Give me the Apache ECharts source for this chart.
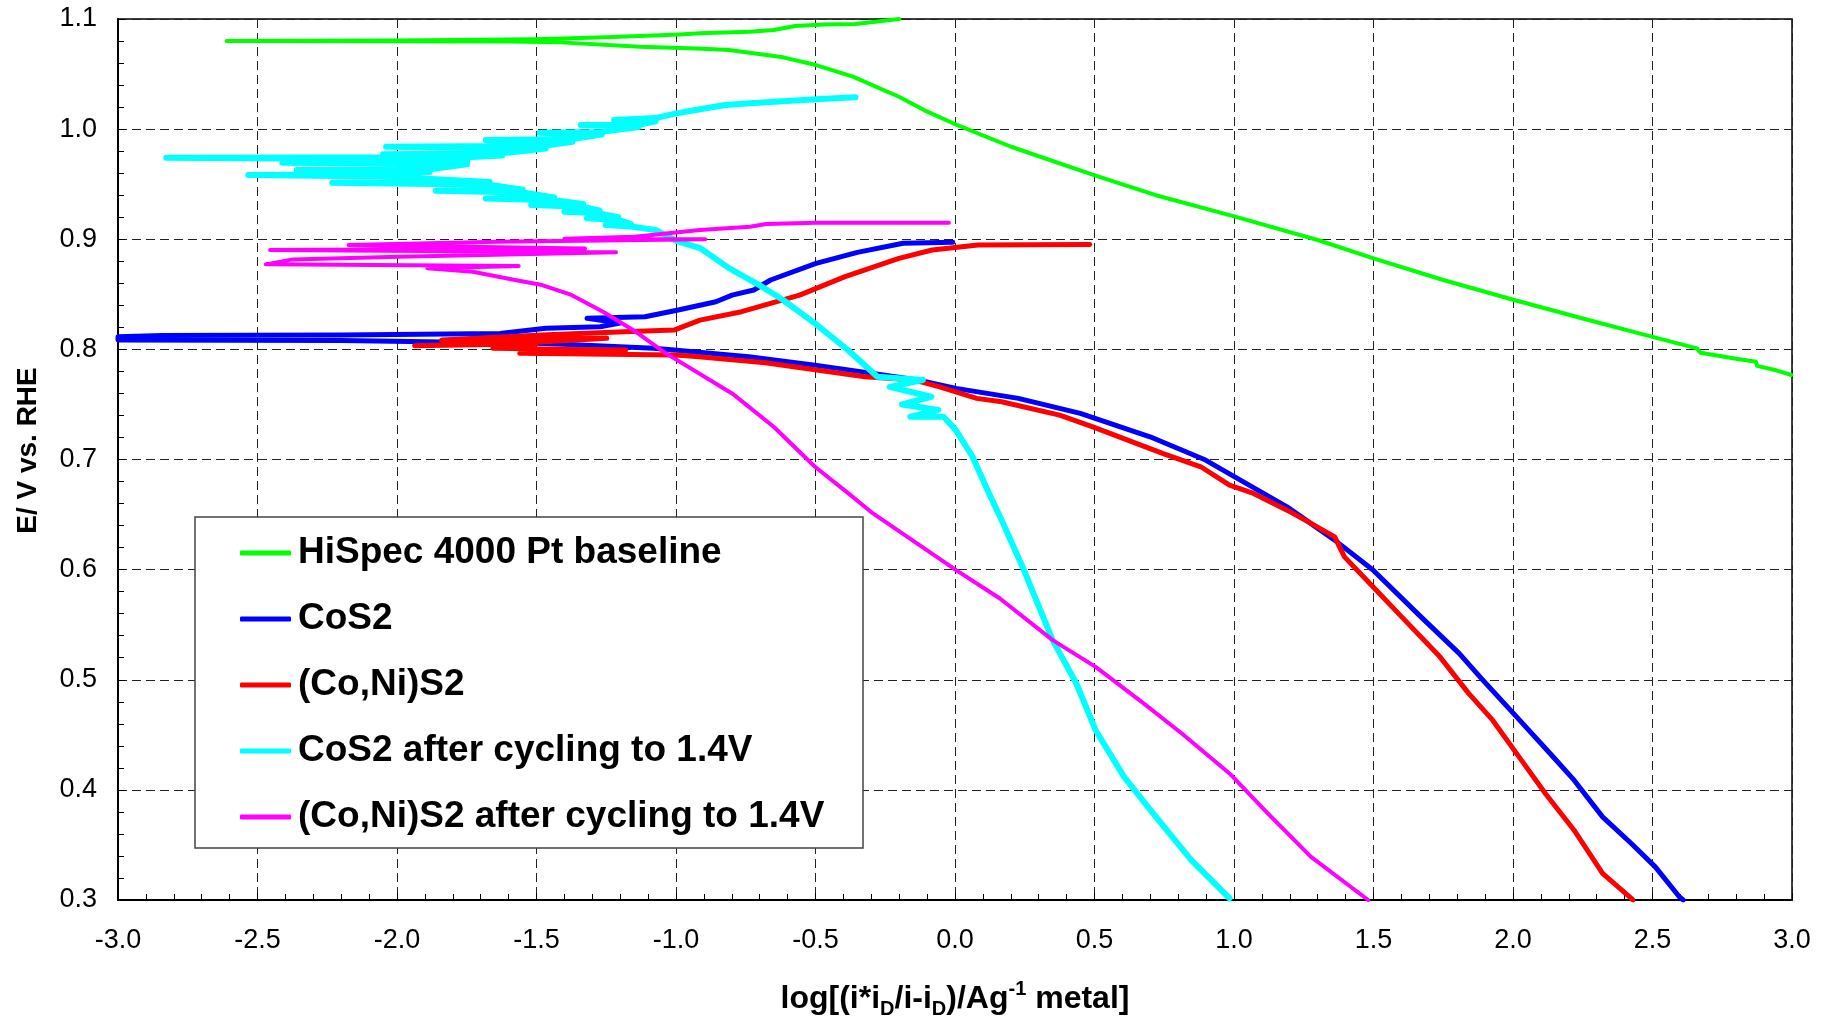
<!DOCTYPE html>
<html>
<head>
<meta charset="utf-8">
<script src="https://cdn.jsdelivr.net/npm/echarts@6/dist/echarts.min.js"></script>
<style>
  html, body { margin: 0; padding: 0; background: #fff; }
  #chart { width: 1829px; height: 1017px; }
</style>
</head>
<body>
<div id="chart"></div>
<script>
// Axis ranges and tick labels
const xMin = -3.0, xMax = 3.0, xStep = 0.5;
const yMin = 0.3, yMax = 1.1, yStep = 0.1;
const xTickLabels = ['-3.0','-2.5','-2.0','-1.5','-1.0','-0.5','0.0','0.5','1.0','1.5','2.0','2.5','3.0'];
const yTickLabels = ['0.3','0.4','0.5','0.6','0.7','0.8','0.9','1.0','1.1'];

const seriesNames = [
  'HiSpec 4000 Pt baseline',
  'CoS2',
  '(Co,Ni)S2',
  'CoS2 after cycling to 1.4V',
  '(Co,Ni)S2 after cycling to 1.4V'
];
const seriesColors = ['#00ff00', '#0000ff', '#ff0000', '#00ffff', '#ff00ff'];

// [log current, potential] pairs, in scan order
const ptBaseline = [
  [-0.20,1.100],[-0.357,1.0955],[-0.47,1.0950],[-0.573,1.0936],[-0.65,1.0900],[-0.736,1.0885],
  [-0.914,1.0870],[-0.986,1.0860],[-1.25,1.0835],[-1.505,1.0816],[-2.0,1.0805],[-2.611,1.0800],
  [-2.0,1.0797],[-1.6,1.0795],[-1.43,1.0790],[-1.13,1.0748],[-0.925,1.0733],[-0.81,1.0718],
  [-0.616,1.0652],[-0.498,1.0582],[-0.366,1.0476],[-0.201,1.0294],[-0.111,1.0173],[-0.007,1.0053],
  [0.201,0.9840],[0.498,0.9583],[0.72,0.9400],[1.004,0.9205],[1.30,0.8993],[1.50,0.8826],
  [1.75,0.8630],[2.004,0.8448],[2.25,0.8280],[2.50,0.8114],[2.659,0.8009],[2.672,0.7970],
  [2.80,0.7915],[2.871,0.7887],[2.875,0.7850],[2.943,0.7810],[2.998,0.7767]
];

const cos2 = [
  [-0.008,0.8972],[-0.186,0.8963],[-0.35,0.8881],[-0.498,0.8781],[-0.661,0.8630],[-0.721,0.8539],
  [-0.799,0.8493],[-0.857,0.8432],[-0.992,0.8357],[-1.111,0.8296],[-1.319,0.8282],[-1.20,0.8240],
  [-1.272,0.8205],[-1.467,0.8191],[-1.631,0.8145],[-2.2,0.8130],[-2.84,0.8125],[-3.0,0.8115],
  [-3.0,0.8085],[-2.2,0.8080],[-1.465,0.8054],[-1.08,0.8010],[-1.007,0.7994],[-0.739,0.7933],
  [-0.502,0.7857],[-0.294,0.7782],[-0.13,0.7721],[0.004,0.7646],[0.227,0.7555],[0.449,0.7419],
  [0.699,0.7206],[0.898,0.6995],[1.19,0.6570],[1.361,0.6268],[1.498,0.5996],[1.67,0.5571],
  [1.807,0.5239],[1.892,0.4996],[2.013,0.4663],[2.133,0.4330],[2.219,0.4088],[2.321,0.3755],
  [2.424,0.3513],[2.51,0.3301],[2.596,0.3029],[2.61,0.3000]
];

const coNiS2 = [
  [0.483,0.8953],[0.082,0.8947],[-0.082,0.8902],[-0.201,0.8827],[-0.394,0.8660],[-0.557,0.8493],
  [-0.765,0.8342],[-0.914,0.8266],[-1.007,0.8175],[-1.185,0.8160],[-1.482,0.8130],[-1.84,0.8085],
  [-1.248,0.8100],[-1.50,0.8065],[-1.937,0.8033],[-1.50,0.8050],[-1.656,0.8010],[-1.18,0.7994],
  [-1.56,0.7964],[-1.0,0.7948],[-0.918,0.7933],[-0.68,0.7878],[-0.323,0.7751],[-0.145,0.7721],
  [-0.055,0.7660],[0.078,0.7555],[0.167,0.7524],[0.375,0.7403],[0.494,0.7297],[0.744,0.7055],
  [0.881,0.6934],[0.984,0.6767],[1.07,0.6692],[1.19,0.6540],[1.276,0.6420],[1.361,0.6298],
  [1.378,0.6207],[1.396,0.6116],[1.464,0.5935],[1.601,0.5571],[1.738,0.5208],[1.841,0.4876],
  [1.927,0.4633],[2.03,0.4270],[2.116,0.3967],[2.219,0.3634],[2.321,0.3241],[2.424,0.3014],[2.43,0.3000]
];

const cos2Cycled = [
  [-0.357,1.0289],[-0.498,1.0271],[-0.706,1.0240],[-0.824,1.0219],[-0.914,1.0180],[-0.999,1.0143],
  [-1.073,1.0100],[-1.222,1.0083],[-1.073,1.0070],
  [-1.133,1.0040],[-1.341,1.0037],[-1.133,1.0020],
  [-1.266,0.9975],[-1.489,0.9968],[-1.266,0.9950],
  [-1.371,0.9910],[-1.682,0.9901],[-1.371,0.9885],
  [-1.467,0.9850],[-2.039,0.9840],[-1.467,0.9825],
  [-1.623,0.9780],[-2.050,0.9771],[-1.623,0.9760],
  [-1.749,0.9745],[-2.827,0.9741],[-1.749,0.9725],
  [-1.749,0.9700],[-2.411,0.9695],[-1.749,0.9680],
  [-1.883,0.9635],[-2.359,0.9629],[-1.883,0.9610],
  [-2.054,0.9590],[-2.533,0.9583],[-2.054,0.9570],
  [-1.668,0.9520],[-2.232,0.9513],[-1.668,0.9495],
  [-1.549,0.9450],[-1.861,0.9441],[-1.549,0.9425],
  [-1.437,0.9380],[-1.682,0.9371],[-1.437,0.9355],
  [-1.333,0.9320],[-1.519,0.9311],[-1.333,0.9295],
  [-1.274,0.9260],[-1.400,0.9250],[-1.274,0.9235],
  [-1.207,0.9200],[-1.319,0.9190],[-1.207,0.9175],
  [-1.162,0.9140],[-1.252,0.9129],[-1.162,0.9115],
  [-1.073,0.9084],[-0.999,0.8986],[-0.914,0.8920],[-0.81,0.8738],
  [-0.692,0.8569],[-0.616,0.8448],[-0.502,0.8236],[-0.384,0.7994],[-0.278,0.7751],[-0.115,0.7721],
  [-0.234,0.7660],[-0.085,0.7570],[-0.19,0.7500],[-0.06,0.7450],[-0.16,0.7388],[-0.041,0.7388],
  [0.003,0.7267],[0.063,0.7025],[0.122,0.6692],[0.167,0.6450],[0.247,0.5996],[0.35,0.5360],
  [0.435,0.4966],[0.504,0.4542],[0.606,0.4118],[0.71,0.3786],[0.847,0.3362],[0.984,0.3014]
];

const coNiS2Cycled = [
  [-0.022,0.9150],[-0.498,0.9150],[-0.677,0.9138],[-0.735,0.9113],[-0.914,0.9084],[-1.148,0.9023],
  [-1.40,0.9005],[-0.895,0.8999],[-1.638,0.8977],[-2.173,0.8947],[-1.326,0.8917],[-2.455,0.8902],
  [-1.215,0.8881],[-1.995,0.8841],[-2.373,0.8817],[-2.47,0.8772],[-1.564,0.8757],[-1.891,0.8736],
  [-1.728,0.8705],[-1.577,0.8630],[-1.48,0.8584],[-1.38,0.8500],[-1.26,0.8340],[-1.144,0.8160],
  [-1.036,0.7964],[-0.799,0.7600],[-0.65,0.7297],[-0.502,0.6934],[-0.382,0.6692],
  [-0.294,0.6510],[0.004,0.5996],[0.161,0.5738],[0.35,0.5360],[0.504,0.5117],[0.676,0.4785],
  [0.813,0.4512],[0.984,0.4149],[1.121,0.3786],[1.276,0.3392],[1.481,0.3000]
];

const seriesData = [ptBaseline, cos2, coNiS2, cos2Cycled, coNiS2Cycled];
const seriesWidths = [4, 5, 5, 6, 4];

const FONT = '"Liberation Sans", Arial, Helvetica, sans-serif';
const chart = echarts.init(document.getElementById('chart'), null, { renderer: 'canvas' });

const gridLine = { show: true, lineStyle: { color: '#222', width: 1, type: [9, 5] } };

chart.setOption({
  animation: false,
  backgroundColor: '#fff',
  grid: {
    left: 118, right: 37, top: 19, bottom: 117,
    outerBoundsMode: 'none', containLabel: false,
    show: true, borderColor: '#000', borderWidth: 1.5, backgroundColor: 'transparent'
  },
  xAxis: {
    type: 'value', min: xMin, max: xMax, interval: xStep,
    axisLine: { show: true, onZero: false, lineStyle: { color: '#000', width: 2 } },
    axisTick: { show: true, inside: true, length: 7, lineStyle: { color: '#000', width: 1 } },
    minorTick: { show: true, splitNumber: 5, length: 6, lineStyle: { color: '#000', width: 1 } },
    splitLine: gridLine,
    axisLabel: {
      margin: 27, fontSize: 27, color: '#000', fontFamily: FONT,
      formatter: v => xTickLabels[Math.round((v - xMin) / xStep)]
    },
    name: '{a|log[(i*i}{s|D}{a|/i-i}{s|D}{a|)/Ag}{p|-1}{a| metal]}',
    nameLocation: 'middle', nameGap: 79,
    nameTextStyle: {
      rich: {
        a: { fontSize: 32, fontWeight: 'bold', fontFamily: FONT, color: '#000', lineHeight: 40 },
        s: { fontSize: 20, fontWeight: 'bold', fontFamily: FONT, color: '#000', lineHeight: 20, verticalAlign: 'bottom' },
        p: { fontSize: 20, fontWeight: 'bold', fontFamily: FONT, color: '#000', lineHeight: 20, verticalAlign: 'top' }
      }
    }
  },
  yAxis: {
    type: 'value', min: yMin, max: yMax, interval: yStep,
    axisLine: { show: true, onZero: false, lineStyle: { color: '#000', width: 2 } },
    axisTick: { show: true, inside: true, length: 7, lineStyle: { color: '#000', width: 1 } },
    minorTick: { show: true, splitNumber: 5, length: 6, lineStyle: { color: '#000', width: 1 } },
    splitLine: gridLine,
    axisLabel: {
      margin: 21, fontSize: 27, color: '#000', fontFamily: FONT,
      formatter: v => yTickLabels[Math.round((v - yMin) / yStep)]
    },
    name: 'E/ V vs. RHE',
    nameLocation: 'middle', nameRotate: 90, nameGap: 76,
    nameTextStyle: { fontSize: 28, fontWeight: 'bold', fontFamily: FONT, color: '#000', padding: [0, 0, 0, 18] }
  },
  legend: {
    data: seriesNames,
    orient: 'vertical',
    left: 240, top: 533,
    padding: 0,
    itemWidth: 51, itemHeight: 5, itemGap: 26,
    icon: 'roundRect',
    textStyle: { fontSize: 37, fontWeight: 'bold', fontFamily: FONT, color: '#000', lineHeight: 40, padding: [0, 0, 0, 2] },
    z: 10
  },
  graphic: [{
    type: 'rect', z: 5, silent: true,
    shape: { x: 195, y: 517, width: 668, height: 331 },
    style: { fill: '#fff', stroke: '#444', lineWidth: 1.5 }
  }],
  series: seriesNames.map((name, i) => ({
    name,
    type: 'line',
    data: seriesData[i],
    showSymbol: false,
    symbol: 'none',
    clip: true,
    color: seriesColors[i],
    lineStyle: { color: seriesColors[i], width: seriesWidths[i], cap: 'round', join: 'round' },
    emphasis: { disabled: true },
    z: 2 + i * 0.01
  }))
});
</script>
</body>
</html>
